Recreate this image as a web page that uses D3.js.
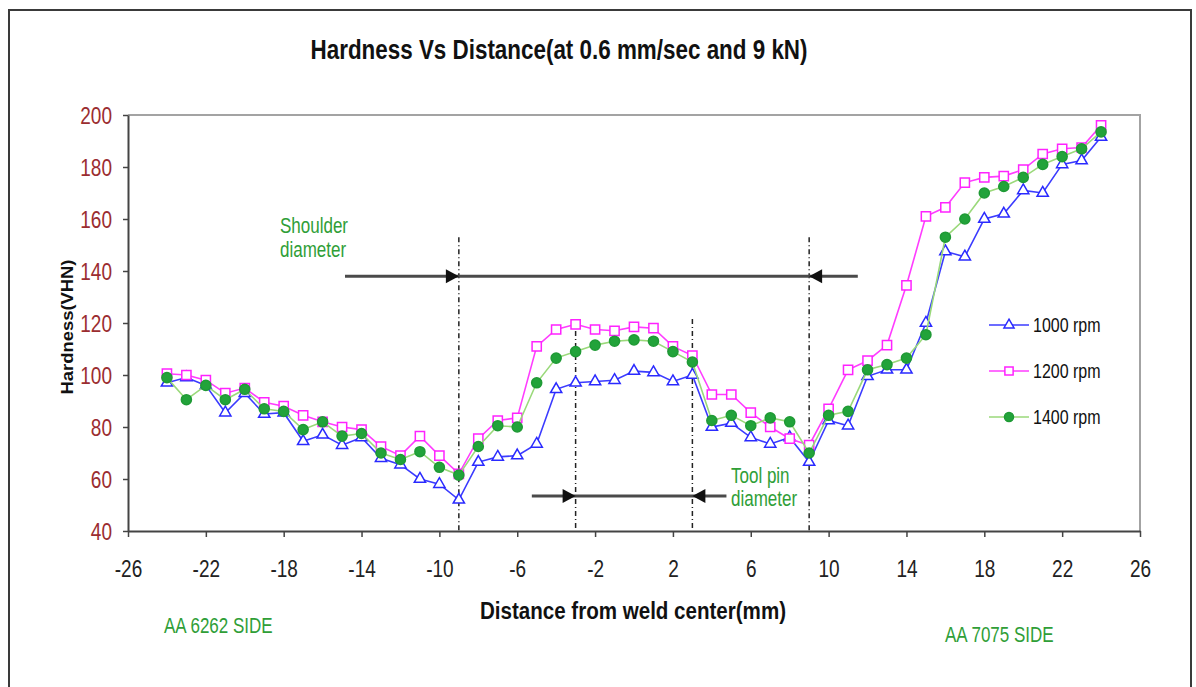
<!DOCTYPE html>
<html>
<head>
<meta charset="utf-8">
<script src="https://cdn.jsdelivr.net/npm/d3@7"></script>
<style>
  body { margin: 0; background: #fff; }
  text { font-family: "Liberation Sans", Arial, sans-serif; }
</style>
</head>
<body>
<svg></svg>
<script>
const width = 1196;
const height = 687;

// distance from weld center (mm)
const distance = [-24,-23,-22,-21,-20,-19,-18,-17,-16,-15,-14,-13,-12,-11,-10,-9,-8,-7,-6,-5,-4,-3,-2,-1,
                  0,1,2,3,4,5,6,7,8,9,10,11,12,13,14,15,16,17,18,19,20,21,22,23,24];

const rpm1000 = [97,99,96,85.5,93,85,85.5,74.5,77,73,76,68,65.5,60,58,52,66.5,68.5,69,73.5,94.5,97,97.5,98,
                 101.5,101,97.5,100,80,81.5,76,73.5,76,66.5,82.5,80.5,99.5,102,102,120,147.5,145.5,160,162,171,170,181,182.5,191.5];
const rpm1200 = [100.5,100,98,93,95,89.5,88,84.5,82,80,79,72.5,69,76.5,69,62,75.5,82.5,83.5,111,117.5,119.5,117.5,117,
                 118.5,118,111,107.5,92.5,92.5,85.5,80,75.5,73,87,102,105.5,111.5,134.5,161,164.5,174,176,176.5,179,185,187,187.5,196];
const rpm1400 = [99,90.5,96,90.5,94.5,87,86,79,82,76.5,77.5,70,67.5,70.5,64.5,61.5,72.5,80.5,80,97,106.5,109,111.5,113,
                 113.5,113,109,105,82.5,84.5,80.5,83.5,82,70,84.5,86,102,104,106.5,115.5,153,160,170,172.5,176,181,184,187,193.5];

const seriesNames = ["1000 rpm", "1200 rpm", "1400 rpm"];
const xTicks = [-26,-22,-18,-14,-10,-6,-2,2,6,10,14,18,22,26];
const yTicks = [40,60,80,100,120,140,160,180,200];

// annotation positions, in data units
const shoulderEdges = [-9, 9];
const shoulderTop = 153;
const shoulderArrow = {from: -14.85, to: 11.5, level: 138};
const pinEdges = [-3, 3];
const pinTop = 121.5;
const pinArrow = {from: -5.25, to: 4.75, level: 53.5};

const stretch = 1.28;   // the picture's text is tall and narrow
const green = "#2f9e37";

const svg = d3.select("svg")
    .attr("width", width)
    .attr("height", height);

// outer frame
svg.append("rect")
    .attr("x", 9).attr("y", 10)
    .attr("width", 1182).attr("height", 700)
    .attr("fill", "none")
    .attr("stroke", "#3a3a3a")
    .attr("stroke-width", 2);

const xScale = d3.scaleLinear().domain([-26, 26]).range([128, 1140]);
const yScale = d3.scaleLinear().domain([40, 200]).range([531, 115]);

// top and right edges of the plot
svg.append("path")
    .attr("d", `M${xScale(-26)},${yScale(200)}H${xScale(26)}V${yScale(40)}`)
    .attr("fill", "none")
    .attr("stroke", "#a3a3a3")
    .attr("stroke-width", 2);

function addText(x, y, str, opts = {}) {
  return svg.append("text")
      .attr("transform", `translate(${x},${y}) scale(1,${stretch})`)
      .attr("dy", "0.35em")
      .attr("font-size", opts.size || 16)
      .attr("font-weight", opts.weight || "normal")
      .attr("fill", opts.color || "#111")
      .attr("text-anchor", opts.anchor || "start")
      .text(str);
}

// axes
const xAxis = d3.axisBottom(xScale)
    .tickValues(xTicks)
    .tickSize(6)
    .tickSizeOuter(0)
    .tickFormat(d => String(d));

const yAxis = d3.axisLeft(yScale)
    .tickValues(yTicks)
    .tickSize(5)
    .tickSizeOuter(0)
    .tickPadding(11)
    .tickFormat(d => String(d));

const gx = svg.append("g")
    .attr("transform", `translate(0,${yScale(40)})`)
    .attr("font-family", null)
    .call(xAxis);
gx.select(".domain").attr("stroke", "#444").attr("stroke-width", 2);
gx.selectAll(".tick line").attr("stroke", "#444").attr("stroke-width", 1.5);
gx.selectAll(".tick text")
    .attr("font-size", 19)
    .attr("fill", "#222")
    .attr("y", 37 / stretch)
    .attr("dy", "0.35em")
    .attr("transform", `scale(1,${stretch})`);

const gy = svg.append("g")
    .attr("transform", `translate(${xScale(-26)},0)`)
    .attr("font-family", null)
    .call(yAxis);
gy.select(".domain").attr("stroke", "#444").attr("stroke-width", 2);
gy.selectAll(".tick line").attr("stroke", "#444").attr("stroke-width", 1.5);
gy.selectAll(".tick text")
    .attr("font-size", 19)
    .attr("fill", "#9b2d30")
    .attr("dy", "0.35em")
    .attr("transform", `scale(1,${stretch})`);

// dash-dot guides for shoulder and pin
const guides = svg.append("g")
    .attr("stroke", "#222")
    .attr("stroke-width", 1.5)
    .attr("stroke-dasharray", "5,3,1,3");
guides.selectAll(".shoulder")
  .data(shoulderEdges)
  .join("line")
    .attr("x1", d => xScale(d)).attr("x2", d => xScale(d))
    .attr("y1", yScale(shoulderTop)).attr("y2", yScale(40));
guides.selectAll(".pin")
  .data(pinEdges)
  .join("line")
    .attr("x1", d => xScale(d)).attr("x2", d => xScale(d))
    .attr("y1", yScale(pinTop)).attr("y2", yScale(40));

function dimension(arrow, edges) {
  const y = yScale(arrow.level);
  svg.append("line")
      .attr("x1", xScale(arrow.from)).attr("x2", xScale(arrow.to))
      .attr("y1", y).attr("y2", y)
      .attr("stroke", "#4a4a4a")
      .attr("stroke-width", 3);
  // left edge arrow points right, right edge arrow points left
  edges.forEach((e, i) => {
    const tip = xScale(e);
    const dir = i === 0 ? 1 : -1;
    svg.append("path")
        .attr("d", `M${tip},${y}L${tip - dir * 13},${y - 7}L${tip - dir * 13},${y + 7}Z`)
        .attr("fill", "#111");
  });
}
dimension(shoulderArrow, shoulderEdges);
dimension(pinArrow, pinEdges);

// series
const series = [
  {name: seriesNames[0], values: rpm1000, line: "#3b3bff", stroke: "#2a2aff", fill: "#fff", symbol: d3.symbolTriangle, size: 55},
  {name: seriesNames[1], values: rpm1200, line: "#ff3cff", stroke: "#ff22ff", fill: "#fff", symbol: d3.symbolSquare, size: 85},
  {name: seriesNames[2], values: rpm1400, line: "#9ad97a", stroke: "#1f9a35", fill: "#22a33a", symbol: d3.symbolCircle, size: 80}
];

const line = d3.line()
    .x((d, i) => xScale(distance[i]))
    .y(d => yScale(d));

series.forEach(s => {
  svg.append("path")
      .datum(s.values)
      .attr("d", line)
      .attr("fill", "none")
      .attr("stroke", s.line)
      .attr("stroke-width", 1.6);
  svg.append("g")
    .selectAll("path")
    .data(s.values)
    .join("path")
      .attr("d", d3.symbol(s.symbol, s.size))
      .attr("transform", (d, i) => `translate(${xScale(distance[i])},${yScale(d)})`)
      .attr("fill", s.fill)
      .attr("stroke", s.stroke)
      .attr("stroke-width", 1.5);
});

// legend
series.forEach((s, i) => {
  const y = 325 + i * 46;
  svg.append("line")
      .attr("x1", 989).attr("x2", 1029)
      .attr("y1", y).attr("y2", y)
      .attr("stroke", s.line)
      .attr("stroke-width", 1.6);
  svg.append("path")
      .attr("d", d3.symbol(s.symbol, s.size * 0.8))
      .attr("transform", `translate(1009,${y})`)
      .attr("fill", s.fill)
      .attr("stroke", s.stroke)
      .attr("stroke-width", 1.5);
  addText(1033, y, s.name, {size: 16});
});

// titles
addText(559, 50, "Hardness Vs Distance(at 0.6 mm/sec and 9 kN)", {size: 21, weight: "bold", anchor: "middle"})
    .attr("textLength", 497).attr("lengthAdjust", "spacingAndGlyphs");
addText(633, 610, "Distance from weld center(mm)", {size: 19, weight: "bold", anchor: "middle"})
    .attr("textLength", 306).attr("lengthAdjust", "spacingAndGlyphs");
svg.append("text")
    .attr("transform", "translate(67,327) rotate(-90)")
    .attr("dy", "0.35em")
    .attr("text-anchor", "middle")
    .attr("font-size", 17)
    .attr("font-weight", "bold")
    .attr("fill", "#111")
    .attr("textLength", 135)
    .attr("lengthAdjust", "spacingAndGlyphs")
    .text("Hardness(VHN)");

// green notes
addText(280, 225, "Shoulder", {size: 17, color: green});
addText(280, 249, "diameter", {size: 17, color: green});
addText(731, 475, "Tool pin", {size: 17, color: green});
addText(731, 498, "diameter", {size: 17, color: green});
addText(164, 625, "AA 6262 SIDE", {size: 17, color: green});
addText(945, 634, "AA 7075 SIDE", {size: 17, color: green});
</script>
</body>
</html>
